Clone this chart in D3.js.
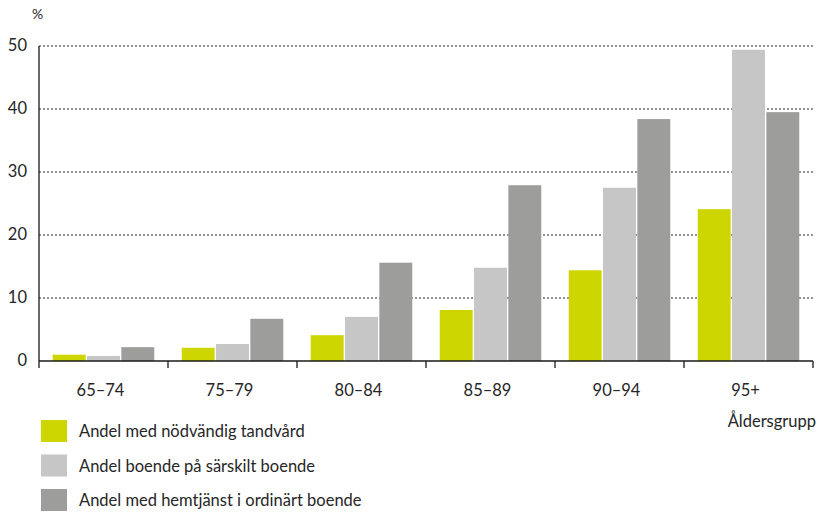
<!DOCTYPE html>
<html>
<head>
<meta charset="utf-8">
<script src="https://cdn.jsdelivr.net/npm/d3@7"></script>
<style>
body { margin: 0; background: #fff; }
text { font-family: "Lato", "DejaVu Sans", sans-serif; fill: #262626; }
</style>
</head>
<body>
<svg id="chart"></svg>
<script>
var width = 817;
var height = 512;

var categories = ["65–74", "75–79", "80–84", "85–89", "90–94", "95+"];
var seriesNames = [
    "Andel med nödvändig tandvård",
    "Andel boende på särskilt boende",
    "Andel med hemtjänst i ordinärt boende"
];
var tandvard = [1.0, 2.1, 4.1, 8.1, 14.4, 24.1];
var sarskilt = [0.8, 2.7, 7.0, 14.8, 27.5, 49.4];
var hemtjanst = [2.2, 6.7, 15.6, 27.9, 38.4, 39.5];
var yTicks = [0, 10, 20, 30, 40, 50];
var colors = ["#cdd600", "#c6c6c6", "#9d9d9c"];

var series = [tandvard, sarskilt, hemtjanst];

var plotLeft = 39, plotRight = 813, plotTop = 46, plotBottom = 361;

var svg = d3.select("#chart")
    .attr("width", width)
    .attr("height", height);

var xScale = d3.scaleBand()
    .domain(categories)
    .range([plotLeft, plotRight]);
var inner = d3.scaleBand()
    .domain(d3.range(series.length))
    .range([0, xScale.bandwidth()])
    .paddingInner(0.04)
    .paddingOuter(0.4);
var yScale = d3.scaleLinear()
    .domain([0, 50])
    .range([plotBottom, plotTop]);

// dotted grid lines
svg.append("g")
    .selectAll("line")
    .data(yTicks.slice(1))
    .enter()
    .append("line")
    .attr("x1", plotLeft)
    .attr("x2", plotRight)
    .attr("y1", function (d) { return yScale(d); })
    .attr("y2", function (d) { return yScale(d); })
    .attr("stroke", "#6f6f6f")
    .attr("stroke-width", 1.3)
    .attr("stroke-dasharray", "2,2");

// bars
var groups = svg.append("g")
    .selectAll("g")
    .data(series)
    .enter()
    .append("g")
    .attr("fill", function (d, i) { return colors[i]; });

groups.selectAll("rect")
    .data(function (d, i) { return d.map(function (v, j) { return {s: i, c: categories[j], v: v}; }); })
    .enter()
    .append("rect")
    .attr("x", function (d) { return xScale(d.c) + inner(d.s); })
    .attr("width", inner.bandwidth())
    .attr("y", function (d) { return yScale(d.v); })
    .attr("height", function (d) { return yScale(0) - yScale(d.v); });

// x axis
var xAxis = svg.append("g")
    .attr("transform", "translate(0," + plotBottom + ")");
xAxis.append("line")
    .attr("x1", plotLeft)
    .attr("x2", plotRight)
    .attr("stroke", "#1a1a1a")
    .attr("stroke-width", 1.5);
xAxis.selectAll(".tick")
    .data(categories.concat([null]))
    .enter()
    .append("line")
    .attr("x1", function (d) { return d ? xScale(d) : plotRight; })
    .attr("x2", function (d) { return d ? xScale(d) : plotRight; })
    .attr("y1", 0)
    .attr("y2", 7)
    .attr("stroke", "#1a1a1a")
    .attr("stroke-width", 1.3);
xAxis.selectAll("text")
    .data(categories)
    .enter()
    .append("text")
    .attr("x", function (d) { return xScale(d) + xScale.bandwidth() / 2 - 3; })
    .attr("y", 35)
    .attr("text-anchor", "middle")
    .attr("font-size", 16.5)
    .text(function (d) { return d; });

// y axis
svg.append("line")
    .attr("x1", plotLeft)
    .attr("x2", plotLeft)
    .attr("y1", plotTop)
    .attr("y2", plotBottom)
    .attr("stroke", "#1a1a1a")
    .attr("stroke-width", 1.3);
svg.append("g")
    .selectAll("text")
    .data(yTicks)
    .enter()
    .append("text")
    .attr("x", 27)
    .attr("y", function (d) { return yScale(d) + 5; })
    .attr("text-anchor", "end")
    .attr("font-size", 16.5)
    .text(function (d) { return d; });

svg.append("text")
    .attr("x", 32)
    .attr("y", 19)
    .attr("font-size", 14)
    .text("%");

svg.append("text")
    .attr("x", 816)
    .attr("y", 427)
    .attr("text-anchor", "end")
    .attr("font-size", 16.5)
    .text("Åldersgrupp");

// legend
var legend = svg.append("g")
    .selectAll("g")
    .data(seriesNames)
    .enter()
    .append("g")
    .attr("transform", function (d, i) { return "translate(41," + (420 + i * 34.5) + ")"; });
legend.append("rect")
    .attr("width", 26)
    .attr("height", 22)
    .attr("fill", function (d, i) { return colors[i]; });
legend.append("text")
    .attr("x", 38)
    .attr("y", 17)
    .attr("font-size", 16.5)
    .text(function (d) { return d; });
</script>
</body>
</html>
